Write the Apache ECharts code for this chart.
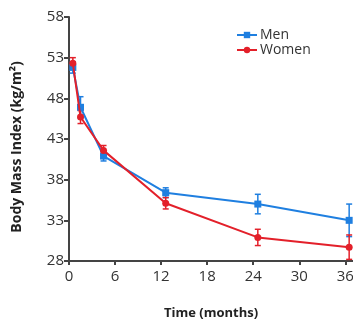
<!DOCTYPE html>
<html>
<head>
<meta charset="utf-8">
<script src="https://cdn.jsdelivr.net/npm/echarts@6/dist/echarts.min.js"></script>
<style>
  html, body { margin: 0; padding: 0; background: #fff; }
  #bmi_chart { width: 353px; height: 320px; }
</style>
</head>
<body>
<div id="bmi_chart"></div>
<script>
// time points (months) and BMI means / SEM
var months = [0.5, 1.5, 4.5, 12.6, 24.6, 36.5];
var menBmi = [51.8, 46.9, 40.9, 36.4, 35.0, 33.0];
var menErr = [0.7, 1.3, 0.6, 0.6, 1.2, 2.0];
var womenBmi = [52.3, 45.7, 41.6, 35.1, 30.9, 29.7];
var womenErr = [0.7, 0.8, 0.6, 0.7, 1.0, 1.5];
var xTicks = [0, 6, 12, 18, 24, 30, 36];
var yTicks = [28, 33, 38, 43, 48, 53, 58];

var blue = '#1f7fe0';
var red = '#e3202a';

function pairs(xs, ys) {
    return xs.map(function (x, i) { return [x, ys[i]]; });
}

function errData(xs, ys, es) {
    return xs.map(function (x, i) { return [x, ys[i] - es[i], ys[i] + es[i]]; });
}

// custom series: vertical error bar with small caps
function errorBars(color) {
    return function (params, api) {
        var lo = api.coord([api.value(0), api.value(1)]);
        var hi = api.coord([api.value(0), api.value(2)]);
        var w = 3;
        var st = { stroke: color, lineWidth: 1.5 };
        return {
            type: 'group',
            children: [
                { type: 'line', shape: { x1: lo[0], y1: lo[1], x2: hi[0], y2: hi[1] }, style: st },
                { type: 'line', shape: { x1: lo[0] - w, y1: lo[1], x2: lo[0] + w, y2: lo[1] }, style: st },
                { type: 'line', shape: { x1: hi[0] - w, y1: hi[1], x2: hi[0] + w, y2: hi[1] }, style: st }
            ]
        };
    };
}

(function () {
    var option = {
        animation: false,
        textStyle: { fontFamily: 'Open Sans' },
        legend: {
            orient: 'vertical',
            left: 231,
            top: 23,
            itemWidth: 20,
            itemHeight: 8,
            itemGap: 1,
            textStyle: { fontSize: 14, lineHeight: 13, color: '#333', padding: [0, 0, 0, -2] },
            data: ['Men', 'Women']
        },
        grid: {
            left: 69,
            right: 0,
            top: 17,
            bottom: 59,
            outerBoundsMode: 'none'
        },
        xAxis: {
            type: 'value',
            min: 0,
            max: 37,
            name: 'Time (months)',
            nameLocation: 'middle',
            nameGap: 46,
            nameTextStyle: { fontSize: 13, fontWeight: 'bold', color: '#222' },
            axisLine: { onZero: false, lineStyle: { color: '#444', width: 2 } },
            axisTick: { show: true, length: 4, customValues: xTicks, lineStyle: { color: '#444', width: 2 } },
            axisLabel: { customValues: xTicks, fontSize: 15, color: '#333', margin: 8 },
            splitLine: { show: false }
        },
        yAxis: {
            type: 'value',
            min: 28,
            max: 58,
            name: 'Body Mass Index (kg/m²)',
            nameLocation: 'middle',
            nameGap: 45,
            nameTextStyle: { fontSize: 14, fontWeight: 'bold', color: '#222', padding: [0, 16, 0, 0] },
            axisLine: { show: true, lineStyle: { color: '#444', width: 2 } },
            axisTick: { show: true, length: 5, customValues: yTicks, lineStyle: { color: '#444', width: 2 } },
            axisLabel: { customValues: yTicks, fontSize: 15, color: '#333', margin: 5 },
            splitLine: { show: false }
        },
        series: [
            {
                name: 'Men',
                type: 'line',
                data: pairs(months, menBmi),
                symbol: 'rect',
                symbolSize: 7,
                color: blue,
                lineStyle: { width: 2 },
                z: 3
            },
            {
                name: 'Women',
                type: 'line',
                data: pairs(months, womenBmi),
                symbol: 'circle',
                symbolSize: 7,
                color: red,
                lineStyle: { width: 2 },
                z: 4
            },
            {
                type: 'custom',
                renderItem: errorBars(blue),
                data: errData(months, menBmi, menErr),
                encode: { x: 0, y: [1, 2] },
                z: 2
            },
            {
                type: 'custom',
                renderItem: errorBars(red),
                data: errData(months, womenBmi, womenErr),
                encode: { x: 0, y: [1, 2] },
                z: 2
            }
        ]
    };

    var myChart = echarts.init(document.getElementById('bmi_chart'));
    myChart.setOption(option);
})();
</script>
</body>
</html>
